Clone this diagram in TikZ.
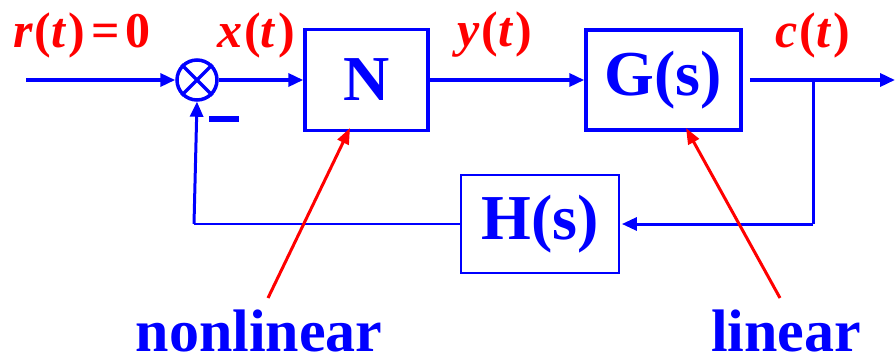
\documentclass[tikz,border=0pt]{standalone}
\usepackage{fontspec}
\setmainfont{Liberation Serif}
\usetikzlibrary{arrows.meta}
\definecolor{bblue}{RGB}{0,0,255}
\definecolor{rred}{RGB}{255,0,0}
\begin{document}
\begin{tikzpicture}[x=1pt,y=-1pt,
  sig/.style={line width=3.5pt,draw=bblue,-{Triangle[length=15pt,width=13pt]}},
  thinsig/.style={line width=2pt,draw=bblue},
  blk/.style={draw=bblue,line width=3.5pt,text=bblue,inner sep=0pt,font=\fontsize{64}{64}\selectfont\bfseries},
  lbl/.style={text=rred,inner sep=0pt,font=\fontsize{50}{50}\selectfont\bfseries},
  note/.style={text=bblue,inner sep=0pt,font=\fontsize{60}{60}\selectfont\bfseries},
  pointer/.style={draw=rred,line width=3pt,-{Triangle[length=16pt,width=12pt]}}]
\useasboundingbox (0,0) rectangle (895,364);
% blocks
\node[draw=bblue,line width=3.5pt,circle,minimum size=40pt,inner sep=0pt] (sum) at (197,80) {};
\draw[bblue,line width=3.5pt] (sum.north east) -- (sum.south west) (sum.north west) -- (sum.south east);
\node[blk,minimum width=123pt,minimum height=101pt] (N) at (366.5,80) {N};
\node[blk,minimum width=155pt,minimum height=100pt] (G) at (663.5,80) {G(s)};
\node[blk,line width=1.8pt,minimum width=158pt,minimum height=98pt] (H) at (540,224) {H(s)};
% minus sign
\node[fill=bblue,minimum width=30pt,minimum height=6pt,inner sep=0pt] (minus) at (224,119) {};
% signals
\coordinate (in) at (26,80);
\coordinate (out) at (895,80);
\coordinate (br) at (813,80);
\draw[sig] (in) -- (sum.west);
\draw[sig] (sum.east) -- (N.west);
\draw[sig] (N.east) -- (G.west);
\draw[sig,shorten <=7pt] (G.east) -- (out);
\draw[bblue,line width=3pt] (br) -- (813,224);
\draw[sig,line width=3pt] (813,224) -- ([xshift=2pt]H.east);
\draw[thinsig] (H.west) -- (194,224);
\draw[sig,line width=3pt] (194,224) -- (sum.south);
% labels
\node[lbl] (rl) at (82,35) {\textit{r}\kern2pt(\textit{t}\kern2pt)\kern6pt=\kern6pt0};
\node[lbl] (xl) at (256,35) {\textit{x}\kern2pt(\textit{t}\kern2pt)};
\node[lbl] (yl) at (495,35) {\textit{y}\kern2pt(\textit{t}\kern2pt)};
\node[lbl] (cl) at (813,35) {\textit{c}\kern2pt(\textit{t}\kern2pt)};
% notes
\node[note] (nonlin) at (259,331) {nonlinear};
\node[note] (lin) at (786,331) {linear};
\coordinate (nlfoot) at (268,298);
\coordinate (lfoot) at (780,298);
\coordinate (ntip) at (350,128);
\coordinate (gtip) at (686,128);
\draw[pointer] (nlfoot) -- (ntip);
\draw[pointer] (lfoot) -- (gtip);
\end{tikzpicture}
\end{document}
